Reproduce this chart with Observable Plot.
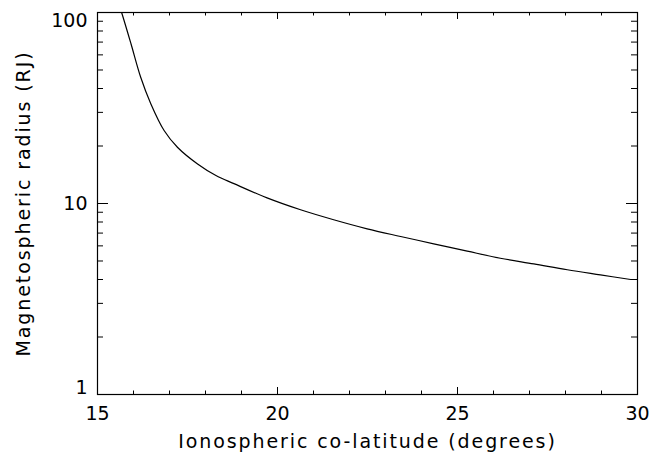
<!DOCTYPE html>
<html>
<head>
<meta charset="utf-8">
<script src="https://cdn.jsdelivr.net/npm/d3@7"></script>
<script src="https://cdn.jsdelivr.net/npm/@observablehq/plot@0.6"></script>
<style>
  html, body { margin: 0; padding: 0; background: #fff; }
  #chart svg { display: block; }
</style>
</head>
<body>
<div id="chart"></div>
<script>
// Data
const colatitude = [15.59, 15.67, 15.93, 16.20, 16.48, 16.85, 17.22, 17.78, 18.29, 18.79, 19.71, 20.64, 21.56, 22.49, 23.42, 24.34, 25.27, 26.19, 27.12, 28.05, 28.97, 29.81];
const radius     = [111, 100, 68.6, 45.8, 33.3, 24.1, 19.7, 16.1, 14.0, 12.7, 10.7, 9.27, 8.22, 7.37, 6.72, 6.15, 5.63, 5.17, 4.83, 4.50, 4.23, 4.00];

const xMajorTicks = [15, 20, 25, 30];
const xMinorTicks = [16, 17, 18, 19, 21, 22, 23, 24, 26, 27, 28, 29];
const yMajorTicks = [1, 10, 100];
const yMinorTicks = [2, 3, 4, 5, 6, 7, 8, 9, 20, 30, 40, 50, 60, 70, 80, 90];

const xTitle = "Ionospheric co-latitude (degrees)";
const yTitle = "Magnetospheric radius (RJ)";

const data = colatitude.map((x, i) => ({x, y: radius[i]}));

const W = 652, H = 462;
const mL = 97, mR = 15, mT = 12, mB = 68;
const pw = W - mL - mR, ph = H - mT - mB;
const font = "DejaVu Sans, sans-serif";
const fs = 19;

const chart = Plot.plot({
  width: W,
  height: H,
  marginLeft: mL,
  marginRight: mR,
  marginTop: mT,
  marginBottom: mB,
  style: {fontFamily: font, fontSize: fs + "px", background: "#fff", color: "#000"},
  x: {domain: [15, 30], axis: null},
  y: {type: "log", domain: [1, 100], axis: null},
  marks: [
    Plot.line(data, {x: "x", y: "y", stroke: "#000", strokeWidth: 1.2, curve: "catmull-rom", clip: true}),
    // inward ticks, bottom & top
    Plot.tickX(xMajorTicks, {x: d => d, insetTop: ph - 7, stroke: "#000"}),
    Plot.tickX(xMinorTicks, {x: d => d, insetTop: ph - 3.5, stroke: "#000"}),
    Plot.tickX(xMajorTicks, {x: d => d, insetBottom: ph - 7, stroke: "#000"}),
    Plot.tickX(xMinorTicks, {x: d => d, insetBottom: ph - 3.5, stroke: "#000"}),
    // inward ticks, left & right
    Plot.tickY(yMajorTicks, {y: d => d, insetRight: pw - 11, stroke: "#000"}),
    Plot.tickY(yMinorTicks, {y: d => d, insetRight: pw - 6, stroke: "#000"}),
    Plot.tickY(yMajorTicks, {y: d => d, insetLeft: pw - 11, stroke: "#000"}),
    Plot.tickY(yMinorTicks, {y: d => d, insetLeft: pw - 6, stroke: "#000"}),
    Plot.frame({stroke: "#000", strokeWidth: 1.2}),
    // tick labels
    Plot.text(xMajorTicks, {x: d => d, frameAnchor: "bottom", dy: 25, text: d => String(d), fontSize: fs, fill: "#000"}),
    Plot.text(yMajorTicks, {y: d => d, frameAnchor: "left", dx: -10, textAnchor: "end", text: d => String(d), fontSize: fs, fill: "#000",
      filter: d => d === 10}),
    Plot.text(yMajorTicks, {y: d => d, frameAnchor: "left", dx: -10, dy: 8, textAnchor: "end", text: d => String(d), fontSize: fs, fill: "#000",
      filter: d => d === 100}),
    Plot.text(yMajorTicks, {y: d => d, frameAnchor: "left", dx: -10, dy: -7, textAnchor: "end", text: d => String(d), fontSize: fs, fill: "#000",
      filter: d => d === 1}),
    // axis titles
    Plot.text([xTitle], {frameAnchor: "bottom", dy: 53, textAnchor: "middle", text: d => d, fontSize: fs, fill: "#000"}),
    Plot.text([yTitle], {frameAnchor: "left", dx: -74, rotate: -90, textAnchor: "middle", text: d => d, fontSize: fs, fill: "#000"})
  ]
});
d3.select(chart).selectAll("text")
  .filter(function() { return this.textContent === xTitle || this.textContent === yTitle; })
  .attr("letter-spacing", "1.9px");
document.getElementById("chart").appendChild(chart);
</script>
</body>
</html>
